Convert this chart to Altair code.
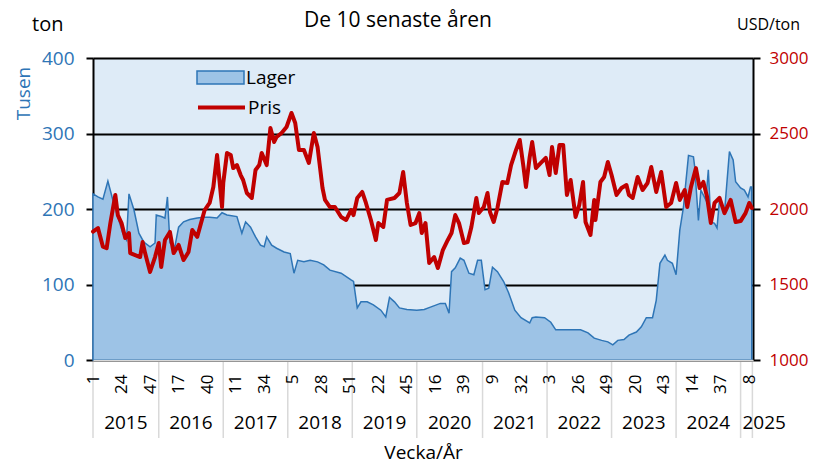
import altair as alt
import pandas as pd

# ---- data (week index from 2015 week 1) ----
inv_week = [0, 4, 8, 12, 16, 19, 24, 27, 29, 33, 37, 41, 46, 50, 51, 55, 58, 60, 62, 66, 69, 73, 78, 84, 89, 94,
            100, 104, 108, 116, 120, 123, 127, 131, 135, 138, 140, 144, 148, 154, 159, 162, 165, 170, 175, 181,
            186, 191, 200, 208, 210, 213, 216, 221, 226, 232, 236, 239, 243, 247, 253, 261, 267, 272, 280, 284,
            287, 289, 292, 296, 299, 303, 307, 310, 313, 316, 319, 322, 326, 331, 335, 340, 345, 352, 354, 357,
            364, 369, 373, 380, 393, 399, 404, 410, 415, 419, 423, 428, 432, 438, 442, 446, 451, 454, 457, 461,
            463, 467, 470, 473, 476, 477, 480, 484, 485, 488, 490, 494, 496, 498, 501, 503, 505, 509, 513, 516,
            518, 522, 525, 528, 530, 531]
inv_val = [220, 216, 213, 237, 212, 195, 168, 159, 220, 199, 168, 156, 150, 155, 192, 190, 188, 216, 155, 150,
           176, 183, 186, 188, 189, 189, 188, 195, 192, 190, 168, 183, 176, 163, 152, 150, 163, 152, 148, 143,
           141, 115, 132, 130, 132, 130, 126, 119, 115, 106, 104, 69, 77, 77, 73, 66, 57, 83, 77, 69, 67, 66,
           67, 70, 75, 75, 62, 117, 122, 135, 132, 115, 113, 132, 132, 93, 95, 123, 117, 104, 89, 66, 56, 49,
           56, 57, 56, 50, 40, 40, 40, 36, 29, 26, 24, 20, 26, 27, 33, 37, 44, 56, 56, 79, 128, 139, 132, 128,
           113, 172, 203, 221, 271, 269, 256, 185, 225, 212, 252, 183, 181, 175, 212, 195, 276, 265, 236, 228,
           225, 216, 229, 229]

price_week = [0, 4, 8, 11, 14, 18, 20, 23, 26, 29, 30, 34, 38, 40, 42, 46, 50, 53, 55, 58, 62, 65, 69, 73, 77,
              80, 84, 86, 90, 94, 97, 100, 104, 105, 108, 111, 113, 116, 119, 121, 124, 128, 131, 134, 136, 140,
              143, 146, 148, 152, 156, 160, 163, 166, 170, 174, 178, 181, 185, 187, 191, 195, 200, 204, 208, 210,
              213, 217, 220, 224, 228, 230, 234, 237, 243, 247, 250, 253, 256, 260, 263, 265, 268, 271, 275, 278,
              282, 286, 289, 292, 295, 299, 302, 305, 309, 311, 315, 318, 320, 323, 326, 330, 334, 337, 341, 344,
              347, 349, 352, 354, 357, 361, 365, 368, 370, 373, 376, 379, 382, 385, 389, 392, 395, 397, 401, 404,
              405, 409, 412, 415, 418, 422, 426, 430, 432, 435, 439, 443, 447, 450, 454, 458, 462, 466, 470, 473,
              477, 479, 482, 486, 489, 492, 495, 498, 501, 505, 509, 514, 518, 522, 526, 529, 531]
price_val = [1850, 1874, 1750, 1740, 1907, 2093, 1960, 1907, 1808, 1841, 1708, 1695, 1682, 1781, 1708, 1583,
             1682, 1775, 1616, 1795, 1848, 1708, 1762, 1662, 1715, 1861, 1815, 1874, 1993, 2040, 2146, 2358,
             2013, 2172, 2371, 2358, 2271, 2291, 2225, 2192, 2106, 2073, 2258, 2291, 2371, 2291, 2536, 2444,
             2477, 2503, 2543, 2636, 2570, 2391, 2391, 2305, 2503, 2411, 2139, 2060, 2013, 2013, 1947, 1927,
             1993, 1960, 2073, 2113, 2040, 1927, 1795, 1907, 1881, 2060, 2073, 2106, 2245, 2040, 1894, 1907,
             1973, 1841, 1907, 1642, 1682, 1609, 1728, 1795, 1841, 1960, 1907, 1775, 1781, 1881, 2073, 1973,
             2013, 2106, 1980, 1914, 2007, 2179, 2172, 2291, 2391, 2457, 2278, 2146, 2344, 2444, 2271, 2305,
             2338, 2225, 2411, 2238, 2424, 2424, 2093, 2192, 1947, 2027, 2179, 1914, 1828, 2060, 1927, 2179,
             2212, 2311, 2225, 2093, 2139, 2159, 2093, 2073, 2212, 2126, 2172, 2278, 2113, 2245, 2013, 2040,
             2172, 2060, 2126, 2013, 2146, 2271, 2139, 2179, 2080, 1907, 2040, 2073, 1973, 2060, 1914, 1920,
             1973, 2040, 2007]

week_tick_labels = ['1', '24', '47', '17', '40', '11', '34', '5', '28', '51', '22', '45', '16', '39',
                    '9', '32', '3', '26', '49', '20', '43', '14', '37', '8']
years = ['2015', '2016', '2017', '2018', '2019', '2020', '2021', '2022', '2023', '2024', '2025']
year_weeks = [53, 52, 52, 52, 52, 53, 52, 52, 52, 52, 10]

# ---- derived tables ----
starts = [sum(year_weeks[:i]) for i in range(len(year_weeks))]
ends = [s + n for s, n in zip(starts, year_weeks)]
year_label_pos = [s + n / 2 for s, n in zip(starts, year_weeks)]
year_label_pos[-1] = ends[-2] + 19  # the last year's label sits past the axis end
sep_pos = starts + [531.5]

inv_df = pd.DataFrame({'w': inv_week, 'v': inv_val})
price_df = pd.DataFrame({'w': price_week, 'p': price_val})
years_df = pd.DataFrame({'w': year_label_pos, 'year': years})
sep_df = pd.DataFrame({'w': sep_pos})
ton_df = pd.DataFrame({'t': ['ton']})
title_df = pd.DataFrame({'t': ['De 10 senaste åren']})

FONT = 'Open Sans'
W, H = 660, 302
XDOM = [0, 532]
tick_vals = list(range(0, 530, 23))
label_arr = '[' + ','.join("'" + s + "'" for s in week_tick_labels) + ']'

x_axis = alt.Axis(values=tick_vals, labelExpr=label_arr + '[round(datum.value/23)]',
                  labelAngle=270, labelFontSize=17, labelPadding=14, labelColor='black',
                  labelOverlap=False, ticks=False, grid=False, domainColor='#D9D9D9', domainWidth=1.5,
                  title='Vecka/År', titleFontSize=19, titleFontWeight='normal', titleColor='black',
                  titleX=W / 2, titleY=92, titleBaseline='middle', titleAlign='center', zindex=1)
x_scale = alt.Scale(domain=XDOM, nice=False, zero=False)


def xenc():
    return alt.X('w:Q', scale=x_scale, axis=x_axis)


left_axis = alt.Axis(values=[0, 100, 200, 300, 400], grid=True, gridColor='black', gridWidth=2,
                     domainColor='black', domainWidth=2, tickColor='black', tickSize=7, tickWidth=2,
                     labelColor='#2E75B6', labelFontSize=19, labelPadding=12, format='d',
                     title='Tusen', titleColor='#2E75B6', titleFontSize=19, titleFontWeight='normal',
                     titleX=-70, titleY=35, titleAngle=270, titleBaseline='middle', titleAlign='center')
right_axis = alt.Axis(orient='right', values=[1000, 1500, 2000, 2500, 3000], grid=False, format='d',
                      domainColor='black', domainWidth=2, tickColor='black', tickSize=7, tickWidth=2,
                      labelColor='#C00000', labelFontSize=17, labelPadding=9,
                      title='USD/ton', titleColor='black', titleFontSize=16, titleFontWeight='normal',
                      titleX=15, titleY=-34, titleAngle=0, titleBaseline='middle', titleAlign='center')

area = alt.Chart(inv_df).transform_calculate(s1="'Lager'").mark_area(
    stroke='#2E75B6', strokeWidth=1.5, opacity=1
).encode(
    x=xenc(),
    y=alt.Y('v:Q', scale=alt.Scale(domain=[0, 400], nice=False), axis=left_axis),
    fill=alt.Fill('s1:N', scale=alt.Scale(domain=['Lager'], range=['#9DC3E6']),
                  legend=alt.Legend(title=None, orient='none', legendX=103, legendY=-5,
                                    symbolType='M-1,-0.28H1V0.28H-1Z', symbolSize=2209,
                                    symbolStrokeColor='#2E75B6', symbolStrokeWidth=1.5,
                                    labelFontSize=19, labelOffset=1, labelColor='black', padding=0)),
)

seps = alt.Chart(sep_df).mark_rule(color='#D9D9D9', strokeWidth=1.5).encode(
    x=xenc(), y=alt.value(H + 2), y2=alt.value(H + 78)
)
year_text = alt.Chart(years_df).mark_text(fontSize=19, font=FONT, color='black', baseline='middle').encode(
    x=xenc(), y=alt.value(H + 63), text='year:N'
)
ton_text = alt.Chart(ton_df).mark_text(fontSize=20, font=FONT, color='black', align='left',
                                       baseline='middle').encode(
    x=alt.value(-61), y=alt.value(-33), text='t:N'
)
title_text = alt.Chart(title_df).mark_text(fontSize=21, font=FONT, color='black', align='center',
                                           baseline='middle').encode(
    x=alt.value(W / 2 - 25), y=alt.value(-37), text='t:N'
)

inventory = alt.layer(area, seps, year_text, ton_text, title_text)

price = alt.Chart(price_df).transform_calculate(s2="'Pris'").mark_line(
    strokeWidth=4, strokeJoin='round', strokeCap='round'
).encode(
    x=xenc(),
    y=alt.Y('p:Q', scale=alt.Scale(domain=[1000, 3000], nice=False, zero=False), axis=right_axis),
    stroke=alt.Stroke('s2:N', scale=alt.Scale(domain=['Pris'], range=['#C00000']),
                      legend=alt.Legend(title=None, orient='none', legendX=103, legendY=24,
                                        symbolType='stroke', symbolSize=2209, symbolStrokeWidth=4,
                                        labelFontSize=19, labelOffset=1, labelColor='black', padding=0)),
)

chart = alt.layer(inventory, price).resolve_scale(y='independent', fill='independent',
                                                  stroke='independent').properties(
    width=W, height=H,
    autosize=alt.AutoSizeParams(type='none'),
    padding={'left': 85, 'top': 50, 'right': 57, 'bottom': 104},
).configure(font=FONT).configure_view(stroke=None, fill='#DEEBF7').configure_legend(
    labelFont=FONT
).configure_axis(labelFont=FONT, titleFont=FONT)

chart.save('out.html', embed_options={'renderer': 'svg', 'actions': False})
